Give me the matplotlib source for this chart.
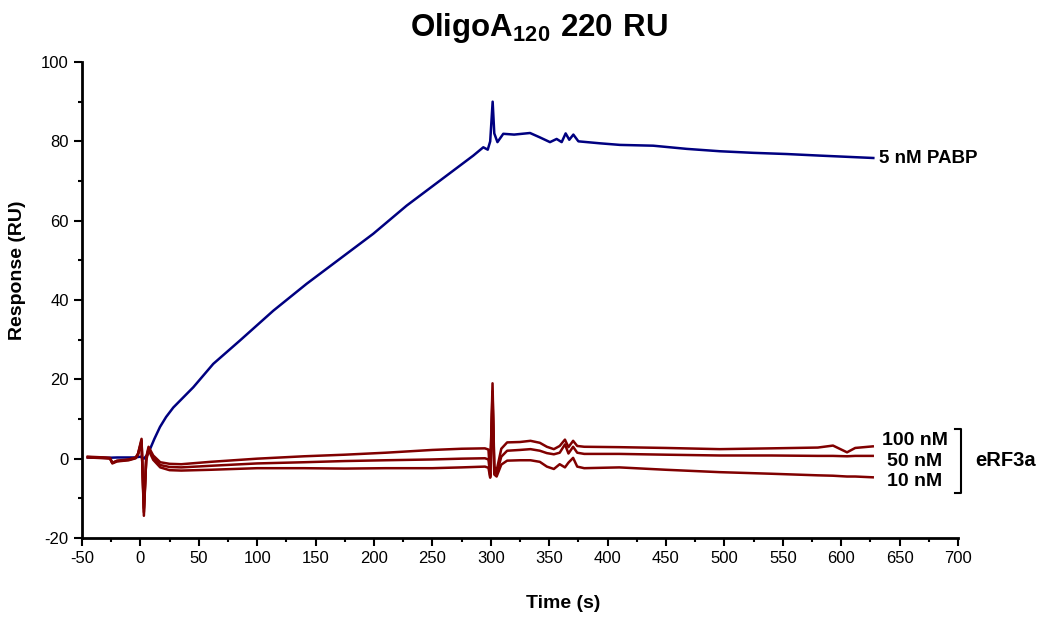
import matplotlib
matplotlib.use("Agg")
import matplotlib.pyplot as plt
from matplotlib.ticker import MultipleLocator

plt.rcParams['font.family'] = ['Liberation Sans', 'DejaVu Sans']
plt.rcParams['mathtext.fontset'] = 'custom'
plt.rcParams['mathtext.rm'] = 'Liberation Sans'
plt.rcParams['mathtext.bf'] = 'Liberation Sans:bold'
plt.rcParams['axes.unicode_minus'] = False

# 5 nM PABP
t_pabp = [-45, -30, -20, -5, 0, 3, 6, 8.4, 12, 16.8, 22, 28.2, 45.3, 62.4, 85.3, 113.8,
          142.4, 170.9, 199.4, 228, 256.5, 285, 293.6, 297.4, 299.5, 301.6, 303, 305.7,
          310.7, 320, 333.6, 342, 350.7, 356.4, 360.7, 364.1, 367.2, 370.7, 375, 393.5,
          410.6, 439.1, 467.7, 496.2, 524.7, 553.3, 581.8, 627.5]
pabp = [0.3, 0.2, 0.3, 0.3, 0.5, 0.0, 1.0, 2.5, 5.0, 8.0, 10.5, 12.9, 18.0, 23.9, 29.8, 37.3,
        44.1, 50.4, 56.7, 63.8, 70.1, 76.4, 78.5, 77.9, 80.0, 90.0, 82.0, 79.8,
        81.9, 81.7, 82.1, 81.0, 79.8, 80.6, 79.8, 82.0, 80.4, 81.7, 80.0, 79.5,
        79.1, 78.9, 78.1, 77.5, 77.1, 76.8, 76.4, 75.8]

# eRF3a, three concentrations
t_erf = [-45, -30, -26, -24, -20, -10, -4, -2, 1, 3, 5, 7, 11, 17, 25, 35, 60, 100, 140,
         175, 210, 250, 275, 295, 298, 299.5, 301.5, 303, 305, 309, 314, 325, 334, 342,
         348, 354, 359, 363.5, 366.5, 370.5, 374, 380, 410, 450, 496, 540, 580, 593,
         605, 612, 627]
erf_100 = [0.5, 0.3, 0.2, -1.1, -0.5, -0.2, 0.3, 1.3, 5.0, -14.4, 0.3, 3.0, 0.8, -0.9,
           -1.3, -1.4, -0.8, 0.0, 0.6, 1.0, 1.5, 2.2, 2.5, 2.6, 2.3, -4.5, 19.0, -2.0,
           -3.0, 2.5, 4.1, 4.2, 4.5, 4.0, 3.0, 2.4, 3.2, 4.8, 2.9, 4.5, 3.2, 3.0, 2.9,
           2.7, 2.4, 2.6, 2.8, 3.3, 1.6, 2.7, 3.1]
erf_50 = [0.4, 0.2, 0.1, -1.0, -0.6, -0.3, 0.2, 1.2, 4.6, -13.5, 0.0, 2.6, 0.2, -1.6,
          -2.1, -2.2, -1.8, -1.2, -0.9, -0.6, -0.4, -0.2, 0.0, 0.1, -0.2, -4.2, 17.0,
          -3.0, -3.8, 0.5, 2.0, 2.2, 2.4, 2.0, 1.4, 1.1, 1.5, 3.6, 1.3, 3.0, 1.5, 1.2,
          1.2, 1.0, 0.8, 0.8, 0.7, 0.7, 0.6, 0.7, 0.7]
erf_10 = [0.3, 0.1, 0.0, -1.2, -0.7, -0.4, 0.1, 1.0, 4.2, -12.5, -0.5, 2.2, -0.3, -2.2,
          -2.9, -3.0, -2.8, -2.4, -2.4, -2.5, -2.4, -2.4, -2.2, -2.0, -2.3, -4.8, 15.0,
          -4.0, -4.5, -1.5, -0.5, -0.4, -0.4, -0.8, -2.0, -2.6, -1.4, -2.2, -1.0, 0.2,
          -2.0, -2.4, -2.2, -2.8, -3.4, -3.8, -4.2, -4.3, -4.5, -4.5, -4.7]

blue = '#000080'
red = '#800000'

fig = plt.figure(figsize=(10.51, 6.25), dpi=100)
ax = fig.add_axes([0.078, 0.1392, 0.8335, 0.7616])

ax.plot(t_pabp, pabp, color=blue, lw=1.8)
for vals in (erf_10, erf_50, erf_100):
    ax.plot(t_erf, vals, color=red, lw=1.8)

ax.set_xlim(-50, 700)
ax.set_ylim(-20, 100)
ax.xaxis.set_major_locator(MultipleLocator(50))
ax.xaxis.set_minor_locator(MultipleLocator(25))
ax.yaxis.set_major_locator(MultipleLocator(20))
ax.yaxis.set_minor_locator(MultipleLocator(10))
ax.tick_params(which='major', direction='out', length=6, width=1.5, labelsize=12)
ax.tick_params(which='minor', direction='out', length=3, width=1.5)
for s in ('top', 'right'):
    ax.spines[s].set_visible(False)
for s in ('left', 'bottom'):
    ax.spines[s].set_linewidth(2)

# labels on the right
ax.text(632, 75.7, '5 nM PABP', fontsize=13.5, fontweight='bold', va='center', ha='left',
        clip_on=False)
ax.text(663, 4.5, '100 nM', fontsize=14, fontweight='bold', va='center', ha='center',
        clip_on=False)
ax.text(663, -0.75, '50 nM', fontsize=14, fontweight='bold', va='center', ha='center',
        clip_on=False)
ax.text(663, -5.8, '10 nM', fontsize=14, fontweight='bold', va='center', ha='center',
        clip_on=False)
ax.plot([697.4, 702.6, 702.6, 697.4], [7.6, 7.6, -8.6, -8.6], color='black', lw=1.5,
        clip_on=False)
ax.text(714.5, -0.5, 'eRF3a', fontsize=14.5, fontweight='bold', va='center', ha='left',
        clip_on=False)

fig.text(0.513, 0.955, r'$\mathbf{OligoA_{120}\ 220\ RU}$', fontsize=22.5, ha='center',
         va='center')
fig.text(0.017, 0.568, 'Response (RU)', fontsize=14, fontweight='bold', rotation=90,
         ha='center', va='center')
fig.text(0.536, 0.034, 'Time (s)', fontsize=14, fontweight='bold', ha='center',
         va='center')

fig.savefig('out.png', dpi=100)
